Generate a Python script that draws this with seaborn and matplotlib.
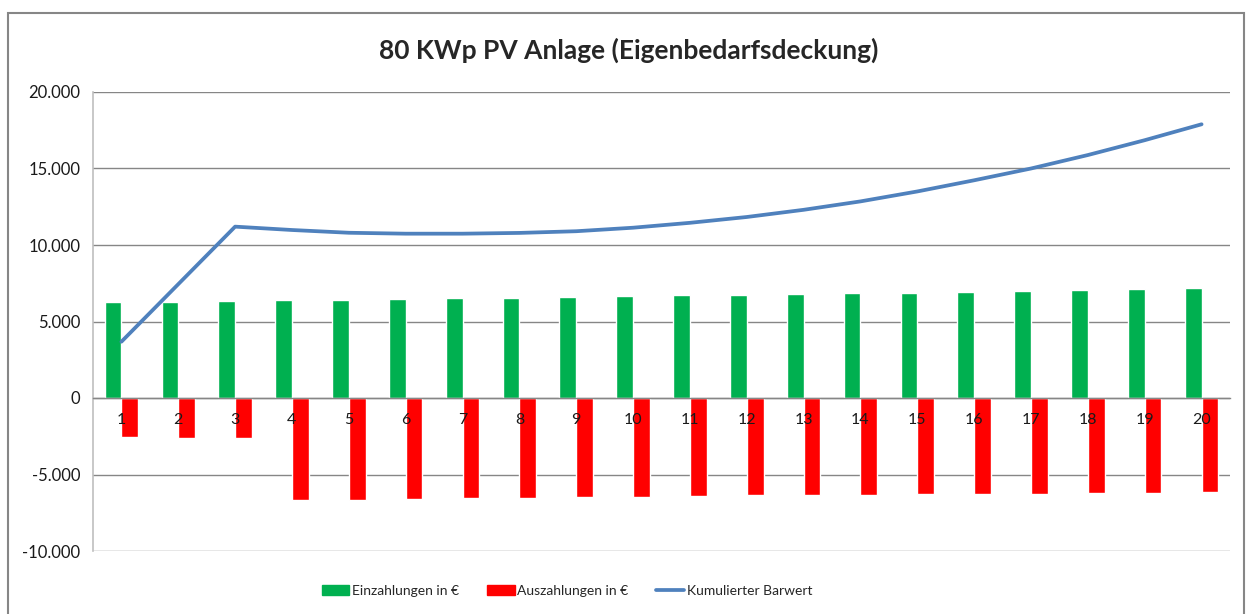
import pandas as pd
import numpy as np
import matplotlib
matplotlib.use("Agg")
import matplotlib.pyplot as plt
import seaborn as sns
from matplotlib.patches import Patch, Rectangle
from matplotlib.lines import Line2D
from matplotlib.ticker import FuncFormatter, MultipleLocator, FixedLocator

# data
jahre = [str(i) for i in range(1, 21)]
einzahlungen = [6250, 6300, 6350, 6380, 6430, 6480, 6510, 6560, 6610, 6660,
                6700, 6750, 6800, 6860, 6880, 6930, 6990, 7060, 7120, 7190]
auszahlungen = [-2550, -2610, -2610, -6640, -6640, -6580, -6560, -6510, -6480, -6450,
                -6400, -6370, -6320, -6320, -6260, -6250, -6250, -6190, -6190, -6120]
barwert = [3680, 7440, 11200, 10980, 10800, 10740, 10740, 10790, 10900, 11130,
           11450, 11830, 12300, 12850, 13500, 14230, 15000, 15880, 16850, 17890]
serien = ["Einzahlungen in €", "Auszahlungen in €"]
farben = ["#00B050", "#FF0000"]
linien_farbe = "#4F81BD"
titel = "80 KWp PV Anlage (Eigenbedarfsdeckung)"

sns.set_theme(style="white")
plt.rcParams["font.family"] = ["Lato", "DejaVu Sans"]

df = pd.DataFrame({
    "Jahr": jahre * 2,
    "Wert": einzahlungen + auszahlungen,
    "Serie": [serien[0]] * 20 + [serien[1]] * 20,
})

fig = plt.figure(figsize=(12.47, 6.14), dpi=100)
W, H = 1247, 614
ax = fig.add_axes([93 / W, (H - 551) / H, (1230 - 93) / W, (551 - 92) / H])

sns.barplot(data=df, x="Jahr", y="Wert", hue="Serie", palette=farben,
            width=0.59, gap=0, saturation=1, ax=ax, legend=False, zorder=2)
sns.lineplot(x=np.arange(20), y=barwert, color=linien_farbe, lw=2.7, ax=ax, zorder=3)

ax.set_xlim(-0.5, 19.5)
ax.set_ylim(-10000, 20000)
ax.yaxis.set_major_locator(MultipleLocator(5000))
ax.yaxis.set_major_formatter(FuncFormatter(lambda v, p: f"{v:,.0f}".replace(",", ".")))
ax.set_xlabel("")
ax.set_ylabel("")

grau = "#868686"
ax.grid(axis="y", color=grau, lw=1)
ax.set_axisbelow(True)
for s in ["top", "right"]:
    ax.spines[s].set_visible(False)
ax.spines["left"].set_color("#BFBFBF")
ax.spines["left"].set_linewidth(1.2)
ax.spines["bottom"].set_position(("data", 0))
ax.spines["bottom"].set_color(grau)
ax.spines["bottom"].set_linewidth(1)

ax.xaxis.set_minor_locator(FixedLocator(np.arange(-0.5, 20, 1)))
ax.tick_params(axis="x", which="major", length=0, pad=11, labelsize=11.5, labelcolor="#1a1a1a")
ax.tick_params(axis="x", which="minor", length=5, color=grau, direction="out")
ax.tick_params(axis="y", length=5, color=grau, labelsize=12, labelcolor="#1a1a1a", pad=4)
ax.xaxis.set_zorder(4)

fig.suptitle(titel, x=629 / W, y=1 - 50 / H, va="center", fontsize=19, fontweight="bold")

handles = [Patch(color=farben[0]), Patch(color=farben[1]),
           Line2D([], [], color=linien_farbe, lw=2.7)]
fig.legend(handles, serien + ["Kumulierter Barwert"], loc="center",
           bbox_to_anchor=(567 / W, 1 - 591 / H), ncol=3, frameon=False,
           fontsize=10, handlelength=2.0, handleheight=0.7, columnspacing=2.0,
           handletextpad=0.2)

fig.add_artist(Rectangle((8 / W, -0.02), (1244 - 8) / W, 0.02 + (H - 13) / H,
                         transform=fig.transFigure, fill=False, ec=grau, lw=1.5))

fig.savefig("out.png", dpi=100)
